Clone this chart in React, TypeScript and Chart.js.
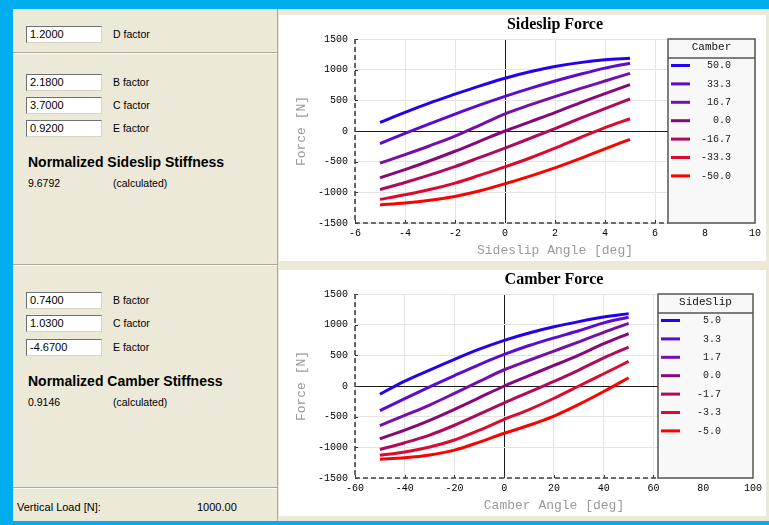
import React, { useEffect, useRef } from 'react';
import { Chart, registerables } from 'chart.js';

Chart.register(...registerables);

// ---------------- Data ----------------
// Sideslip Force chart: x = sideslip angle [deg], one series per camber level
const sideslipAngles = [-5, -4, -3, -2, -1, 0, 1, 2, 3, 4, 5];
const camberLegendLabels = ['50.0', '33.3', '16.7', '0.0', '-16.7', '-33.3', '-50.0'];
const sideslipForceCamberP500 = [140, 305, 460, 600, 735, 860, 965, 1050, 1115, 1160, 1185];
const sideslipForceCamberP333 = [-205, -40, 120, 275, 425, 565, 695, 815, 925, 1025, 1105];
const sideslipForceCamberP167 = [-525, -385, -240, -85, 95, 280, 425, 560, 690, 815, 940];
const sideslipForceCamber000 = [-765, -630, -485, -330, -165, 0, 150, 300, 460, 610, 755];
const sideslipForceCamberN167 = [-955, -840, -715, -580, -430, -278, -120, 40, 205, 365, 522];
const sideslipForceCamberN333 = [-1115, -1040, -955, -850, -720, -585, -440, -280, -110, 55, 200];
const sideslipForceCamberN500 = [-1205, -1175, -1130, -1068, -975, -860, -735, -600, -450, -290, -135];

// Camber Force chart: x = camber angle [deg], one series per sideslip level
const camberAngles = [-50, -40, -30, -20, -10, 0, 10, 20, 30, 40, 50];
const sideslipLegendLabels = ['5.0', '3.3', '1.7', '0.0', '-1.7', '-3.3', '-5.0'];
const camberForceSlipP50 = [-135, 80, 260, 435, 600, 745, 865, 965, 1050, 1125, 1180];
const camberForceSlipP33 = [-400, -205, -15, 170, 350, 515, 660, 785, 900, 1030, 1120];
const camberForceSlipP17 = [-645, -480, -310, -120, 75, 265, 420, 570, 720, 875, 1020];
const camberForceSlip00 = [-860, -720, -560, -380, -190, 0, 170, 335, 505, 690, 855];
const camberForceSlipN17 = [-1035, -925, -800, -640, -460, -275, -100, 75, 260, 460, 635];
const camberForceSlipN33 = [-1130, -1075, -995, -880, -720, -545, -385, -200, 0, 200, 400];
const camberForceSlipN50 = [-1195, -1170, -1125, -1045, -915, -770, -640, -490, -300, -90, 135];

// Axis ticks
const forceTicks = [-1500, -1000, -500, 0, 500, 1000, 1500];
const sideslipAxisTicks = [-6, -4, -2, 0, 2, 4, 6, 8, 10];
const camberAxisTicks = [-60, -40, -20, 0, 20, 40, 60, 80, 100];

const seriesColors = ['#2200f0', '#5a0cd2', '#7410aa', '#86087a', '#b00a5a', '#dc0a30', '#ff0000'];

// ---------------- Styles ----------------
const MONO = '"Liberation Mono", "Courier New", monospace';
const SANS = '"Liberation Sans", Arial, sans-serif';
const BEIGE = '#ECE9D8';

const framePlugin = {
  id: 'frame',
  afterDraw(chart: any, _args: any, opts: any) {
    const { ctx, chartArea: a, scales } = chart;
    const xs = scales.x;
    const ys = scales.y;
    const lx = Math.round(xs.getPixelForValue(opts.legendFrom));
    ctx.save();

    // inward tick marks
    ctx.strokeStyle = '#303030';
    ctx.lineWidth = 1;
    ctx.beginPath();
    ys.ticks.forEach((t: any) => {
      const py = Math.round(ys.getPixelForValue(t.value)) + 0.5;
      ctx.moveTo(a.left, py);
      ctx.lineTo(a.left + 3, py);
    });
    xs.ticks.forEach((t: any) => {
      const px = Math.round(xs.getPixelForValue(t.value)) + 0.5;
      if (px < lx) {
        ctx.moveTo(px, a.bottom);
        ctx.lineTo(px, a.bottom - 3);
      }
    });
    ctx.stroke();

    // dashed axes
    ctx.setLineDash([5, 3]);
    ctx.strokeStyle = '#444444';
    ctx.lineWidth = 1.6;
    ctx.beginPath();
    ctx.moveTo(a.left, a.top);
    ctx.lineTo(a.left, a.bottom);
    ctx.lineTo(lx, a.bottom);
    ctx.stroke();
    ctx.setLineDash([]);

    // legend box
    const rx = a.right;
    const ty = a.top;
    const by = a.bottom;
    ctx.fillStyle = '#f8f8f8';
    ctx.fillRect(lx, ty, rx - lx, by - ty);
    ctx.strokeStyle = '#555555';
    ctx.lineWidth = 1.5;
    ctx.strokeRect(lx, ty, rx - lx, by - ty);
    ctx.beginPath();
    ctx.moveTo(lx, ty + 19);
    ctx.lineTo(rx, ty + 19);
    ctx.stroke();
    ctx.fillStyle = '#111';
    ctx.font = `11px ${MONO}`;
    ctx.textAlign = 'center';
    ctx.textBaseline = 'middle';
    ctx.fillText(opts.legendTitle, (lx + rx) / 2, ty + 8);
    ctx.font = `10px ${MONO}`;
    ctx.textAlign = 'right';
    opts.labels.forEach((lab: string, i: number) => {
      const yy = ty + 26.5 + i * 18.4;
      ctx.strokeStyle = seriesColors[i];
      ctx.lineWidth = 3;
      ctx.beginPath();
      ctx.moveTo(lx + 3, yy);
      ctx.lineTo(lx + 22, yy);
      ctx.stroke();
      ctx.fillStyle = '#222';
      ctx.fillText(lab, lx + 63, yy);
    });

    // chart title
    ctx.fillStyle = '#000';
    ctx.font = `bold 16px "Liberation Serif", "Times New Roman", serif`;
    ctx.textAlign = 'center';
    ctx.textBaseline = 'middle';
    ctx.fillText(opts.title, (a.left + a.right) / 2, 10);
    ctx.restore();
  },
};

type ChartProps = {
  xValues: number[];
  series: number[][];
  labels: string[];
  xTicks: number[];
  xTitle: string;
  title: string;
  legendTitle: string;
  legendFrom: number;
  width: number;
  height: number;
};

function ForceChart(p: ChartProps) {
  const ref = useRef<HTMLCanvasElement>(null);
  useEffect(() => {
    const gridColor = (c: any) => (c.tick && c.tick.value === 0 ? '#1a1a1a' : '#e4e4e4');
    const chart = new Chart(ref.current as HTMLCanvasElement, {
      type: 'line',
      data: {
        datasets: p.series.map((s, i) => ({
          label: p.labels[i],
          data: p.xValues.map((x, j) => ({ x, y: s[j] })),
          borderColor: seriesColors[i],
          backgroundColor: seriesColors[i],
          borderWidth: 3,
          pointRadius: 0,
          fill: false,
          cubicInterpolationMode: 'monotone',
        })),
      },
      options: {
        responsive: false,
        animation: false,
        events: [],
        layout: { padding: { top: 24, right: p.width - 476, left: 0, bottom: 0 } },
        plugins: {
          legend: { display: false },
          tooltip: { enabled: false },
          frame: { title: p.title, legendTitle: p.legendTitle, legendFrom: p.legendFrom, labels: p.labels },
        } as any,
        scales: {
          x: {
            type: 'linear',
            min: p.xTicks[0],
            max: p.xTicks[p.xTicks.length - 1],
            afterBuildTicks: (s: any) => {
              s.ticks = p.xTicks.map((v) => ({ value: v }));
            },
            afterFit: (s: any) => {
              s.height = 38;
            },
            grid: { color: gridColor, drawTicks: false, lineWidth: 1 },
            border: { display: false },
            ticks: {
              font: { family: MONO, size: 10 },
              color: '#000',
              padding: 4,
              maxRotation: 0,
              autoSkip: false,
              callback: (v: any) => String(v),
            },
            title: {
              display: true,
              text: p.xTitle,
              color: '#9a9a9a',
              font: { family: MONO, size: 13 },
              padding: { top: 0, bottom: 3 },
            },
          },
          y: {
            type: 'linear',
            min: forceTicks[0],
            max: forceTicks[forceTicks.length - 1],
            afterBuildTicks: (s: any) => {
              s.ticks = forceTicks.map((v) => ({ value: v }));
            },
            afterFit: (s: any) => {
              s.width = 76;
            },
            grid: { color: gridColor, drawTicks: false, lineWidth: 1 },
            border: { display: false },
            ticks: {
              font: { family: MONO, size: 10 },
              color: '#000',
              padding: 7,
              autoSkip: false,
              callback: (v: any) => String(v),
            },
            title: {
              display: true,
              text: 'Force [N]',
              color: '#9a9a9a',
              font: { family: MONO, size: 13 },
              padding: { top: 15, bottom: 0 },
            },
          },
        },
      } as any,
      plugins: [framePlugin as any],
    });
    return () => chart.destroy();
  }, []);
  return <canvas ref={ref} width={p.width} height={p.height} style={{ display: 'block' }} />;
}

function Field({ top, value, label }: { top: number; value: string; label: string }) {
  return (
    <>
      <div
        style={{
          position: 'absolute',
          left: 26,
          top,
          width: 76,
          height: 17,
          boxSizing: 'border-box',
          background: '#fff',
          borderTop: '1px solid #6f6f6f',
          borderLeft: '1px solid #6f6f6f',
          borderRight: '1px solid #d8d4c4',
          borderBottom: '1px solid #d8d4c4',
          fontSize: 11,
          lineHeight: '15px',
          paddingLeft: 3,
          color: '#000',
          fontFamily: SANS,
        }}
      >
        {value}
      </div>
      <div style={{ position: 'absolute', left: 113, top, height: 17, lineHeight: '17px', fontSize: 10.5 }}>{label}</div>
    </>
  );
}

function Txt({ x, y, children, bold, size }: any) {
  return (
    <div
      style={{
        position: 'absolute',
        left: x,
        top: y - 8,
        height: 16,
        lineHeight: '16px',
        fontSize: size || 10.5,
        fontWeight: bold ? 'bold' : 'normal',
        whiteSpace: 'nowrap',
      }}
    >
      {children}
    </div>
  );
}

function Sep({ y }: { y: number }) {
  return (
    <>
      <div style={{ position: 'absolute', left: 13, top: y, width: 264, height: 1, background: '#ACA899' }} />
      <div style={{ position: 'absolute', left: 13, top: y + 1, width: 264, height: 1, background: '#fff' }} />
    </>
  );
}

export default function App() {
  return (
    <div
      style={{
        position: 'absolute',
        left: 0,
        top: 0,
        width: 769,
        height: 525,
        overflow: 'hidden',
        background: '#00AEEF',
        fontFamily: SANS,
        color: '#000',
      }}
    >
      <div style={{ position: 'absolute', left: 13, top: 9, width: 756, height: 512, background: BEIGE }} />
      <div style={{ position: 'absolute', left: 277, top: 9, width: 1, height: 512, background: '#ACA899' }} />

      {/* left panel */}
      <Field top={26} value="1.2000" label="D factor" />
      <Sep y={52} />
      <Field top={74} value="2.1800" label="B factor" />
      <Field top={97} value="3.7000" label="C factor" />
      <Field top={120} value="0.9200" label="E factor" />
      <Txt x={28} y={162} bold size={14}>Normalized Sideslip Stiffness</Txt>
      <Txt x={28} y={183}>9.6792</Txt>
      <Txt x={113} y={183}>(calculated)</Txt>
      <Sep y={264} />
      <Field top={292} value="0.7400" label="B factor" />
      <Field top={315} value="1.0300" label="C factor" />
      <Field top={339} value="-4.6700" label="E factor" />
      <Txt x={28} y={381} bold size={14}>Normalized Camber Stiffness</Txt>
      <Txt x={28} y={402}>0.9146</Txt>
      <Txt x={113} y={402}>(calculated)</Txt>
      <Sep y={487} />
      <Txt x={17} y={507} size={11}>Vertical Load [N]:</Txt>
      <Txt x={197} y={507} size={11}>1000.00</Txt>

      {/* charts */}
      <div style={{ position: 'absolute', left: 279, top: 15, width: 487, height: 246, background: '#fff' }}>
        <ForceChart
          xValues={sideslipAngles}
          series={[
            sideslipForceCamberP500,
            sideslipForceCamberP333,
            sideslipForceCamberP167,
            sideslipForceCamber000,
            sideslipForceCamberN167,
            sideslipForceCamberN333,
            sideslipForceCamberN500,
          ]}
          labels={camberLegendLabels}
          xTicks={sideslipAxisTicks}
          xTitle="Sideslip Angle [deg]"
          title="Sideslip Force"
          legendTitle="Camber"
          legendFrom={6.5}
          width={487}
          height={246}
        />
      </div>
      <div style={{ position: 'absolute', left: 279, top: 270, width: 487, height: 246, background: '#fff' }}>
        <ForceChart
          xValues={camberAngles}
          series={[
            camberForceSlipP50,
            camberForceSlipP33,
            camberForceSlipP17,
            camberForceSlip00,
            camberForceSlipN17,
            camberForceSlipN33,
            camberForceSlipN50,
          ]}
          labels={sideslipLegendLabels}
          xTicks={camberAxisTicks}
          xTitle="Camber Angle [deg]"
          title="Camber Force"
          legendTitle="SideSlip"
          legendFrom={62}
          width={487}
          height={246}
        />
      </div>
    </div>
  );
}
